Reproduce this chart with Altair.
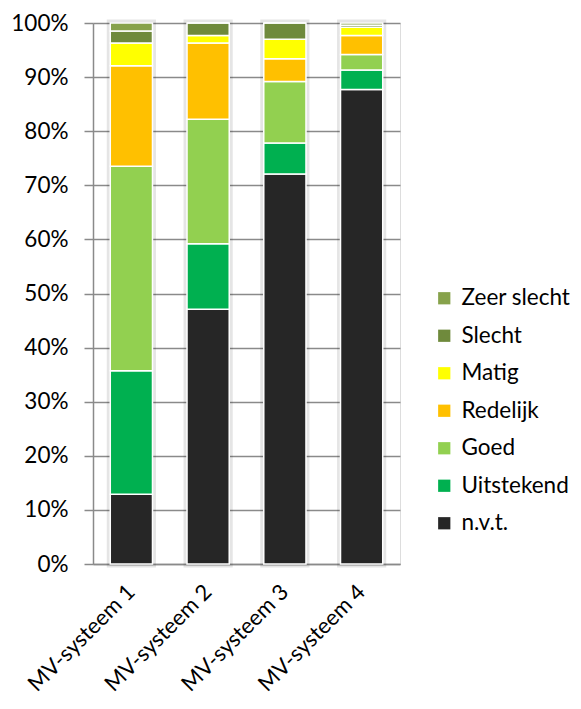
import altair as alt
import pandas as pd

systems = ["MV-systeem 1", "MV-systeem 2", "MV-systeem 3", "MV-systeem 4"]
categories = ["n.v.t.", "Uitstekend", "Goed", "Redelijk", "Matig", "Slecht", "Zeer slecht"]
colors = ["#262626", "#00B050", "#92D050", "#FFC000", "#FFFF00", "#6F8A3C", "#87A24B"]

nvt = [12.9, 47.1, 72.1, 87.7]
uitstekend = [22.8, 12.1, 5.7, 3.6]
goed = [37.8, 23.0, 11.4, 2.9]
redelijk = [18.6, 14.1, 4.2, 3.5]
matig = [4.2, 1.4, 3.6, 1.5]
slecht = [2.2, 2.3, 3.0, 0.4]
zeer_slecht = [1.5, 0.0, 0.0, 0.4]

series = [nvt, uitstekend, goed, redelijk, matig, slecht, zeer_slecht]
rows = []
for ci, (cat, vals) in enumerate(zip(categories, series)):
    for s, v in zip(systems, vals):
        rows.append({"systeem": s, "categorie": cat, "idx": ci, "waarde": v / 100.0})
df = pd.DataFrame(rows)
tot = df.groupby("systeem", as_index=False)["waarde"].sum()

FONT = "Lato"

xenc = alt.X("systeem:N", sort=systems, title=None,
             scale=alt.Scale(paddingInner=0.45, paddingOuter=0.225),
             axis=alt.Axis(labelAngle=315, labelAlign="right", labelBaseline="middle",
                           labelFontSize=22, labelFont=FONT, labelColor="#000000",
                           labelPadding=24, ticks=False, domain=True,
                           domainColor="#8a8a8a", domainWidth=1.5, grid=False))

shadow = alt.Chart(tot).mark_bar(fill="white", stroke="#000000", strokeOpacity=0.10,
                                 strokeWidth=7).encode(
    x=xenc,
    y=alt.Y("waarde:Q"),
)

bars = alt.Chart(df).mark_bar(stroke="white", strokeWidth=1.5).encode(
    x=xenc,
    y=alt.Y("waarde:Q", stack="zero", title=None,
            scale=alt.Scale(domain=[0, 1], nice=False),
            axis=alt.Axis(format=".0%", values=[i / 10 for i in range(11)],
                          labelFontSize=22.5, labelFont=FONT, labelColor="#000000",
                          labelPadding=16, tickSize=9, tickColor="#8a8a8a", tickWidth=1.5,
                          domainColor="#8a8a8a", domainWidth=1.5,
                          grid=True, gridColor="#8a8a8a", gridWidth=1.5)),
    color=alt.Color("categorie:N",
                    scale=alt.Scale(domain=categories[::-1], range=colors[::-1]),
                    sort=categories[::-1],
                    legend=alt.Legend(title=None, orient="none", legendX=340, legendY=264,
                                      labelFontSize=22.5, labelFont=FONT, labelColor="#000000",
                                      symbolType="square", symbolSize=150, symbolStrokeWidth=0,
                                      rowPadding=14.5, labelOffset=6)),
    order=alt.Order("idx:Q", sort="ascending"),
)

chart = alt.layer(shadow, bars).properties(
    width=307, height=541,
    padding={"left": 2, "top": 4, "right": 0, "bottom": 0},
).configure_view(stroke=None).configure(background="white")

chart.save("out.html", embed_options={"renderer": "svg", "actions": False})
